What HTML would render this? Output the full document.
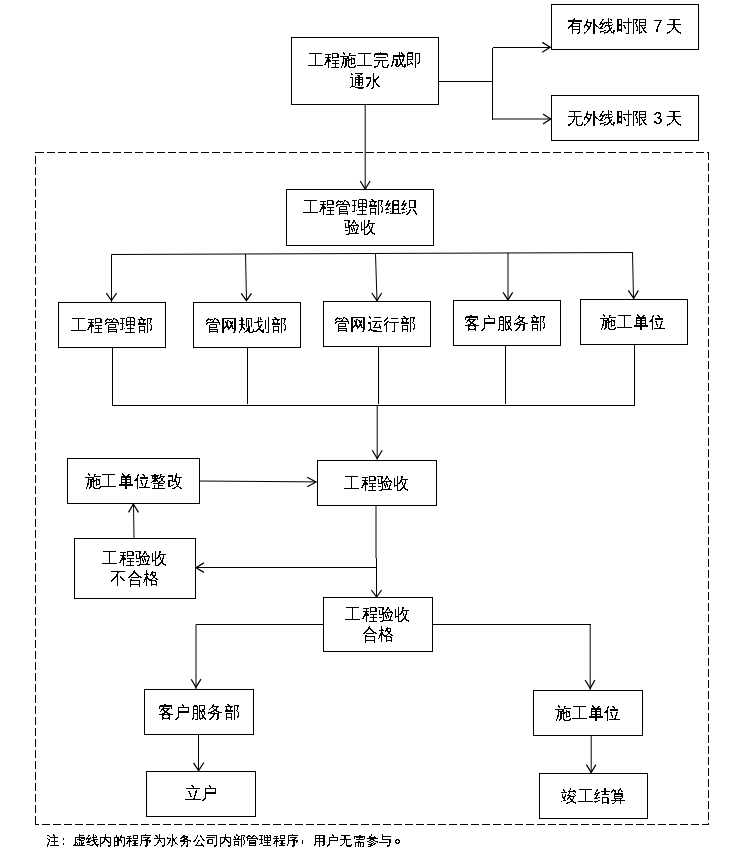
<!DOCTYPE html>
<html><head><meta charset="utf-8">
<style>
html,body{margin:0;padding:0;background:#fff;}
body{width:729px;height:851px;position:relative;overflow:hidden;font-family:"Liberation Sans",sans-serif;color:#000;}
svg{position:absolute;left:0;top:0;}
.s{display:inline-block;transform:scale(1.025,1.07);}
.t{filter:url(#th);position:absolute;font-size:16px;line-height:21px;text-align:center;white-space:nowrap;display:flex;align-items:center;justify-content:center;}
.note{filter:url(#th2);position:absolute;left:46px;top:831px;font-size:13px;line-height:20px;letter-spacing:0.33px;white-space:nowrap;}
.cl{position:relative;left:-2px;}
.cm{position:relative;left:-3px;top:-3px;}
.pd{display:inline-block;box-sizing:border-box;width:5.5px;height:5.5px;border:1.2px solid #000;border-radius:50%;position:relative;left:2px;top:-1px;vertical-align:baseline;}
</style></head><body>
<svg width="729" height="851" viewBox="0 0 729 851" fill="none" stroke="#000" stroke-width="1">
<filter id="th" x="0" y="0" width="1" height="1" color-interpolation-filters="sRGB"><feComponentTransfer><feFuncA type="discrete" tableValues="0 0 0 0 0 0 0 0 0 1 1 1 1 1 1 1 1 1 1 1"/></feComponentTransfer></filter>
<filter id="th2" x="0" y="0" width="1" height="1" color-interpolation-filters="sRGB"><feComponentTransfer><feFuncA type="discrete" tableValues="0 0 0 0 0 0 0 1 1 1 1 1 1 1 1 1 1 1 1 1"/></feComponentTransfer></filter>
<g shape-rendering="crispEdges">
<rect x="291.5" y="37.5" width="147" height="67"/>
<rect x="551.5" y="4.5" width="147" height="45"/>
<rect x="551.5" y="95.5" width="147" height="45"/>
<rect x="286.5" y="189.5" width="147" height="56"/>
<rect x="58.5" y="302.5" width="107" height="45"/>
<rect x="193.5" y="302.5" width="107" height="45"/>
<rect x="323.5" y="301.5" width="107" height="45"/>
<rect x="453.5" y="300.5" width="107" height="45"/>
<rect x="580.5" y="299.5" width="107" height="45"/>
<rect x="67.5" y="458.5" width="132" height="45"/>
<rect x="317.5" y="460.5" width="119" height="45"/>
<rect x="74.5" y="538.5" width="121" height="60"/>
<rect x="323.5" y="597.5" width="109" height="54"/>
<rect x="144.5" y="689.5" width="109" height="45"/>
<rect x="146.5" y="771.5" width="109" height="45"/>
<rect x="533.5" y="690.5" width="109" height="45"/>
<rect x="539.5" y="773.5" width="108" height="45"/>
<g stroke-dasharray="8 3"><path d="M35.5 152.5H708.5"/><path d="M35 152.5H37" stroke-dasharray="none"/><path d="M708.5 152V825"/><path d="M709 824.5H35" stroke-dashoffset="1"/><path d="M35.5 153V825" stroke-dashoffset="8"/></g>
<!-- top connectors -->
<path d="M438.5 81.5H492.5M492.5 47.5V119.5M492.5 47.5H551M112.5 347V405.5H634.5M634.5 344V406M247.5 347V403.5M378.5 346V403.5M505.5 345V403.5"/>
<path d="M323 624.5H195.5V624.5M432 624.5H590.5"/>
</g>
<g>
<path d="M492.5 119H551"/>
<path d="M365.2 104V189"/>
<path d="M111.5 254.5L633 252.5"/>
<path d="M111.5 254.5V302M245.5 254L246.5 301M375.5 254L377 301M508 253V300.5M632.5 252.5L633.5 299"/>
<path d="M377.2 405.5V459.5"/>
<path d="M199 481L316 481.9"/>
<path d="M376 505V558"/><path d="M376.5 558V597"/>
<path d="M376.5 567.5H195.5"/>
<path d="M134 538L133.5 503.5"/>
<path d="M196 624.5V689"/>
<path d="M590.2 624.5V690"/>
<path d="M198.5 734V771"/>
<path d="M591.2 735V773"/>
<!-- arrowheads -->
<g stroke-width="1.25">
<path d="M542.3 42.4L550.2 47.3L542.3 52.3"/>
<path d="M543 113.9L550.7 119.1L543 124"/>
<path d="M360.2 181L365.2 189L370.1 181"/>
<path d="M106.3 293.2L111.5 300.5L116.6 293.2"/>
<path d="M241.2 293.3L246.4 300.7L251.5 293.3"/>
<path d="M371.8 293L377 300.5L381.7 293"/>
<path d="M503.1 292.3L507.9 299.9L512.7 292.3"/>
<path d="M628.3 290.4L633.7 298.3L638.4 290.4"/>
<path d="M372.3 450.3L377.2 458.6L382.2 450.3"/>
<path d="M307.2 477.3L316 482L307.2 486.7"/>
<path d="M203.9 562.9L196 567.7L203.9 572.4"/>
<path d="M128.6 512.4L133.3 504L138.5 512.4"/>
<path d="M371.4 590L376.6 597L381.6 590"/>
<path d="M191.2 679.2L195.9 687.2L201 679.2"/>
<path d="M585.1 680L590.2 688.3L594.9 680"/>
<path d="M193.5 762.8L198.6 770.5L203.8 762.5"/>
<path d="M586.4 764.6L591.2 772.6L595.9 764.6"/>
</g>
</g>
</svg>
<div class="t" style="left:292px;top:38px;width:146px;height:66px;line-height:19.7px;"><span class="s">工程施工完成即<br>通水</span></div>
<div class="t" style="left:551px;top:4px;width:146px;height:44px;"><span class="s">有外线时限 <span style="margin-right:-1px">7</span> 天</span></div>
<div class="t" style="left:551px;top:96px;width:146px;height:44px;"><span class="s">无外线时限 <span style="margin-right:-1px">3</span> 天</span></div>
<div class="t" style="left:287px;top:190px;width:146px;height:55px;line-height:18.7px;"><span class="s">工程管理部组织<br>验收</span></div>
<div class="t" style="left:59px;top:303px;width:106px;height:44px;"><span class="s">工程管理部</span></div>
<div class="t" style="left:193px;top:303px;width:106px;height:44px;"><span class="s">管网规划部</span></div>
<div class="t" style="left:322px;top:302px;width:106px;height:44px;"><span class="s">管网运行部</span></div>
<div class="t" style="left:452px;top:301px;width:106px;height:44px;"><span class="s">客户服务部</span></div>
<div class="t" style="left:580px;top:300px;width:106px;height:44px;"><span class="s">施工单位</span></div>
<div class="t" style="left:68px;top:459px;width:131px;height:44px;"><span class="s">施工单位整改</span></div>
<div class="t" style="left:318px;top:461px;width:118px;height:44px;"><span class="s">工程验收</span></div>
<div class="t" style="left:75px;top:539px;width:120px;height:59px;line-height:18.7px;"><span class="s">工程验收<br>不合格</span></div>
<div class="t" style="left:324px;top:598px;width:108px;height:53px;line-height:18.7px;"><span class="s">工程验收<br>合格</span></div>
<div class="t" style="left:145px;top:690px;width:108px;height:44px;"><span class="s">客户服务部</span></div>
<div class="t" style="left:147px;top:771px;width:108px;height:44px;"><span class="s">立户</span></div>
<div class="t" style="left:534px;top:691px;width:108px;height:44px;"><span class="s">施工单位</span></div>
<div class="t" style="left:540px;top:774px;width:107px;height:44px;"><span class="s">竣工结算</span></div>
<div class="note">注<span class="cl">：</span>虚线内的程序为水务公司内部管理程序<span class="cm">，</span>用户无需参与<span class="pd"></span></div>
</body></html>
